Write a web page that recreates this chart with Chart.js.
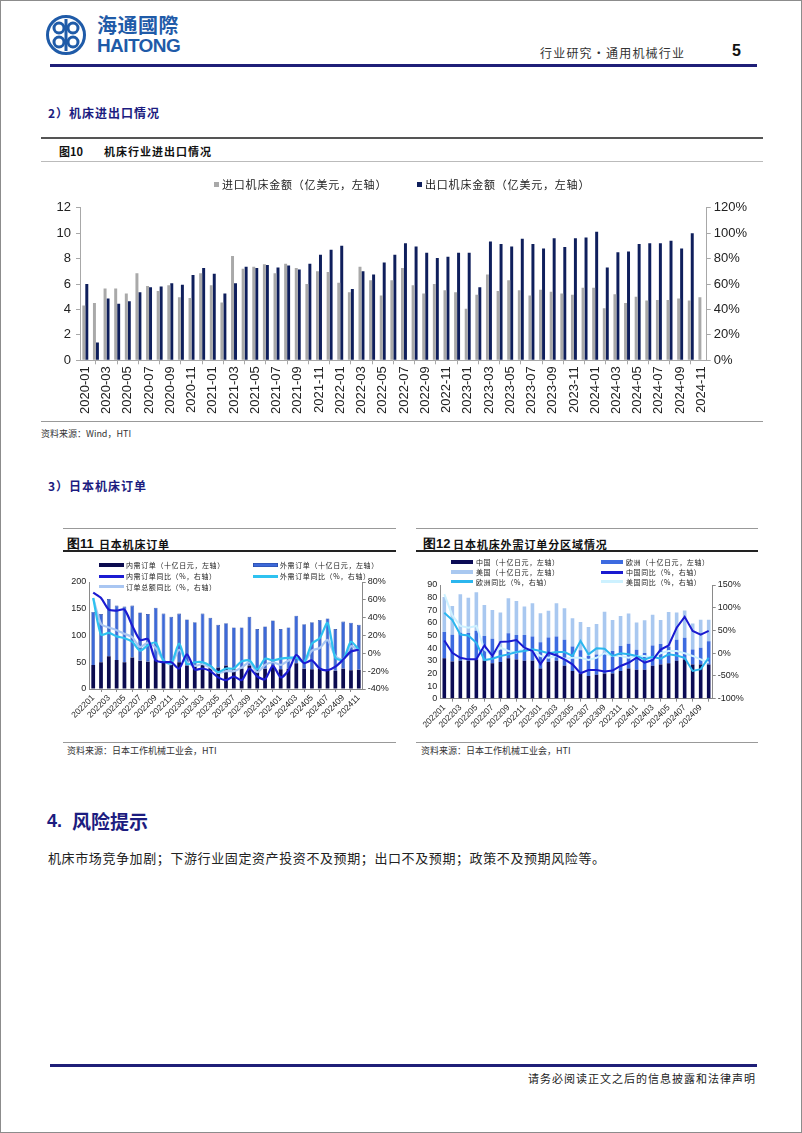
<!DOCTYPE html>
<html><head><meta charset="utf-8">
<script src="https://cdn.jsdelivr.net/npm/chart.js@4.4.1/dist/chart.umd.min.js"></script>
<style>
body{margin:0;background:#fff;}
#page{position:relative;width:802px;height:1133px;box-sizing:border-box;border:1px solid #8c8c8c;overflow:hidden;font-family:"Noto Sans CJK SC","Noto Sans",sans-serif;color:#222;background:#fff;}
.t{position:absolute;white-space:nowrap;}
.hl{position:absolute;}
canvas{position:absolute;}
.lgs{position:absolute;}
.lgt{position:absolute;white-space:nowrap;font-size:7px;letter-spacing:0.6px;line-height:10px;color:#222;}
</style></head>
<body><div id="page">
<!-- header -->
<svg class="t" style="left:45px;top:12px" width="40" height="44" viewBox="0 0 40 44">
  <circle cx="20" cy="22" r="18.5" fill="none" stroke="#1f5ba8" stroke-width="3"/>
  <circle cx="13" cy="15" r="5" fill="none" stroke="#1f5ba8" stroke-width="3"/>
  <circle cx="27" cy="15" r="5" fill="none" stroke="#1f5ba8" stroke-width="3"/>
  <circle cx="13" cy="29" r="5" fill="none" stroke="#1f5ba8" stroke-width="3"/>
  <circle cx="27" cy="29" r="5" fill="none" stroke="#1f5ba8" stroke-width="3"/>
  <rect x="18.5" y="6" width="3" height="32" fill="#1f5ba8"/>
</svg>
<div class="t" style="left:96px;top:11px;font-size:20px;font-weight:bold;color:#1f5ba8;line-height:26px;letter-spacing:0.5px">海通國際</div>
<div class="t" style="left:96px;top:35px;font-size:19px;font-weight:bold;color:#1f5ba8;line-height:20px;font-family:'Liberation Sans',Arial,sans-serif;letter-spacing:-0.6px">HAITONG</div>
<div class="t" style="left:539px;top:44px;font-size:12px;line-height:16px;letter-spacing:1.2px;color:#333">行业研究•通用机械行业</div>
<div class="t" style="left:731px;top:40px;font-size:16px;line-height:20px;font-weight:bold;font-family:'Liberation Sans',Arial,sans-serif;color:#111">5</div>
<div class="hl" style="left:49px;top:63px;width:707px;height:3px;background:#1f1f78"></div>

<div class="t" style="left:47px;top:104px;font-size:12px;line-height:16px;font-weight:bold;color:#1c1c80;letter-spacing:1px">2）机床进出口情况</div>

<!-- figure 10 -->
<div class="hl" style="left:40px;top:136px;width:722px;height:1.5px;background:#555"></div>
<div class="t" style="left:58px;top:143px;font-size:11px;line-height:14px;font-weight:bold;color:#111">图10</div>
<div class="t" style="left:103px;top:143px;font-size:11px;line-height:14px;font-weight:bold;color:#111;letter-spacing:1px">机床行业进出口情况</div>
<div class="hl" style="left:40px;top:160px;width:722px;height:1px;background:#bbb"></div>
<canvas id="c1" width="722" height="255" style="left:40px;top:163px"></canvas>
<div class="hl" style="left:40px;top:420px;width:722px;height:1px;background:#999"></div>
<div class="t" style="left:40px;top:427px;font-size:9px;line-height:12px;color:#333">资料来源：Wind，HTI</div>

<div class="t" style="left:47px;top:477px;font-size:12px;line-height:16px;font-weight:bold;color:#1c1c80;letter-spacing:1px">3）日本机床订单</div>

<!-- figure 11 -->
<div class="hl" style="left:62px;top:527px;width:333px;height:1px;background:#999"></div>
<div class="t" style="left:66px;top:535px;font-size:13px;line-height:16px;font-weight:bold;color:#111;font-family:'Liberation Sans',Arial,sans-serif">图11</div>
<div class="t" style="left:98px;top:535px;font-size:11px;line-height:16px;font-weight:bold;color:#111;letter-spacing:0.8px">日本机床订单</div>
<div class="hl" style="left:62px;top:549px;width:333px;height:1.5px;background:#222"></div>
<canvas id="c2" width="335" height="188" style="left:60px;top:553px"></canvas>
<div class="hl" style="left:62px;top:741px;width:333px;height:1px;background:#999"></div>
<div class="t" style="left:66px;top:744px;font-size:9px;line-height:12px;color:#333">资料来源：日本工作机械工业会，HTI</div>

<!-- figure 12 -->
<div class="hl" style="left:415px;top:527px;width:342px;height:1px;background:#999"></div>
<div class="t" style="left:422px;top:535px;font-size:13px;line-height:16px;font-weight:bold;color:#111;font-family:'Liberation Sans',Arial,sans-serif">图12</div>
<div class="t" style="left:452px;top:535px;font-size:11px;line-height:16px;font-weight:bold;color:#111;letter-spacing:0.9px">日本机床外需订单分区域情况</div>
<div class="hl" style="left:415px;top:549px;width:342px;height:1.5px;background:#222"></div>
<canvas id="c3" width="343" height="188" style="left:415px;top:553px"></canvas>
<div class="hl" style="left:415px;top:741px;width:342px;height:1px;background:#999"></div>
<div class="t" style="left:420px;top:744px;font-size:9px;line-height:12px;color:#333">资料来源：日本工作机械工业会，HTI</div>

<!-- section 4 -->
<div class="t" style="left:46px;top:808px;font-size:18px;line-height:24px;font-weight:bold;color:#1c1c80;font-family:'Liberation Sans',Arial,sans-serif">4.</div>
<div class="t" style="left:71px;top:808px;font-size:19px;line-height:24px;font-weight:bold;color:#1c1c80">风险提示</div>
<div class="t" style="left:47px;top:848px;font-size:13px;line-height:17px;color:#222;letter-spacing:0.6px">机床市场竞争加剧；下游行业固定资产投资不及预期；出口不及预期；政策不及预期风险等。</div>

<div class="hl" style="left:49px;top:1063px;width:707px;height:2.5px;background:#1f1f78"></div>
<div class="t" style="left:527px;top:1070px;font-size:11px;line-height:15px;color:#222;letter-spacing:1px">请务必阅读正文之后的信息披露和法律声明</div>
</div>

<script>
// ---------- Figure 10 data ----------
const c1Months = ['2020-01','2020-02','2020-03','2020-04','2020-05','2020-06','2020-07','2020-08','2020-09','2020-10','2020-11','2020-12',
'2021-01','2021-02','2021-03','2021-04','2021-05','2021-06','2021-07','2021-08','2021-09','2021-10','2021-11','2021-12',
'2022-01','2022-02','2022-03','2022-04','2022-05','2022-06','2022-07','2022-08','2022-09','2022-10','2022-11','2022-12',
'2023-01','2023-02','2023-03','2023-04','2023-05','2023-06','2023-07','2023-08','2023-09','2023-10','2023-11','2023-12',
'2024-01','2024-02','2024-03','2024-04','2024-05','2024-06','2024-07','2024-08','2024-09','2024-10','2024-11'];
const c1Import = [4.3,4.5,5.65,5.65,5.25,6.85,5.85,5.45,5.9,4.95,4.9,6.85,
5.9,4.55,8.2,7.2,7.35,7.55,6.85,7.6,7.25,6.0,7.0,6.95,
6.1,5.35,7.35,6.3,5.1,6.3,7.25,5.9,5.25,6.0,5.5,5.35,
4.05,5.15,6.75,5.45,6.3,5.5,5.1,5.55,5.4,5.25,5.15,5.7,
5.7,4.1,5.2,4.5,5.0,4.7,4.75,4.75,4.85,4.7,4.95];
const c1Export = [6.0,1.4,4.85,4.45,4.65,5.35,5.75,5.8,6.05,5.95,6.7,7.25,
6.8,5.25,6.05,7.35,7.25,7.5,7.3,7.45,7.15,7.6,8.3,8.7,
9.0,5.6,7.0,6.75,7.7,8.3,9.2,8.95,8.45,8.05,8.15,8.45,
8.45,5.75,9.35,9.15,8.95,9.55,9.15,8.8,9.6,8.9,9.6,9.65,
10.1,7.3,8.5,8.55,9.15,9.2,9.2,9.4,8.8,10.0,null];
const c1LeftTicks = [0,2,4,6,8,10,12];
const c1RightTicks = ['0%','20%','40%','60%','80%','100%','120%'];

// ---------- Figure 11 data ----------
const c2Months = ['202201','202202','202203','202204','202205','202206','202207','202208','202209','202210','202211','202212',
'202301','202302','202303','202304','202305','202306','202307','202308','202309','202310','202311','202312',
'202401','202402','202403','202404','202405','202406','202407','202408','202409','202410','202411'];
const c2Domestic = [45,50,61,54,50,59,53,51,55,50,48,50, 44,42,50,43,40,44,37,38,44,36,38,44, 37,38,48,38,37,38,37,34,38,35,36];
const c2Foreign  = [99,90,107,102,104,97,90,89,97,91,87,91, 86,83,91,90,80,79,78,77,91,76,79,84, 75,77,89,83,88,91,95,78,88,89,84];
const c2DomYoY   = [68,62,49,48,49,31,15,16,-8,-10,-10,-17, -1,-18,-17,-20,-27,-30,-26,-30,-17,-26,-29,-14, -27,-19,-2,-11,-8,-17,-19,-15,-7,2,4];
const c2ForYoY   = [62,21,23,19,17,13,3,9,12,-8,-11,11, -12,-10,-10,-14,-21,-17,-17,-9,-8,-18,-6,-8, -6,-5,-5,-10,11,17,34,-5,-7,13,4];
const c2TotYoY   = [62,33,29,26,22,18,7,12,6,-8,-12,4, -10,-14,-12,-16,-22,-20,-20,-16,-10,-21,-13,-10, -13,-8,-4,-10,3,6,15,-3,-7,8,3];

// ---------- Figure 12 data ----------
const c3Months = ['202201','202202','202203','202204','202205','202206','202207','202208','202209','202210','202211','202212',
'202301','202302','202303','202304','202305','202306','202307','202308','202309','202310','202311','202312',
'202401','202402','202403','202404','202405','202406','202407','202408','202409','202410'];
const c3China  = [32,29.5,30,30,31,30,28,29,32,31,30,30, 24,29,30,26,22,20,18,19,20,20,22,24, 23,23,26,27,28,30,31,27,27,27];
const c3Europe = [20.8,21.2,22.2,22.0,22.8,19.6,19.5,10.0,19.8,19.5,20.5,19.2, 20.7,19.4,19.2,20.6,19.3,18.4,15.8,16.0,16.4,17.7,19.7,19.5, 15.8,13.1,16.2,16.3,12.9,16.7,17.3,12.0,13.4,18.4];
const c3US     = [27.7,22.7,30.4,28,30.4,24.6,22.8,29.2,27.7,26.9,22.4,26.3, 22.9,21.3,26.3,25,22.4,22.3,22.9,24.1,32.5,24.6,23.7,24, 21.6,25.9,24.3,19,27.7,21.6,21.6,20.6,22.1,17.1];
const c3ChinaYoY  = [28,1,-10,-13.5,-13.5,17,-6,25,26,29,12,5, -24,1,-5,-13.5,-24.5,-44,-37,-37,-40,-38,-28,-21, -10,-21,-15,8,17,56,80,49,41,49];
const c3EuropeYoY = [89,73,41,39,23,-15,-12,-6,-2.5,2.6,5,8.5, 5,0,2.6,2.6,-6,27,-2.5,10.7,10,-6,0,-2.5, -6,-13.5,-8,-12,-2.5,-5,-10,-39,-35,-10];
const c3USYoY     = [130,83,60,56,60,8.5,-6,12,5,1,12,5, -6,-10,-6,-12,-10,-10,-15,-10,0,-6,-6,-10, -6,-6,-10,0,5,5,0,-6,-13.5,-21];

const NUMFONT = "'Liberation Sans', Arial, sans-serif";

function everyOther(v, i) { return i % 2 === 0 ? this.getLabelForValue(v) : null; }

function htmlLegend(chart, items, opt) {
  const page = document.getElementById('page');
  chart.data.datasets.forEach((ds, i) => {
    const p = items[i];
    const sw = document.createElement('div');
    sw.className = 'lgs';
    const isLine = ds.type === 'line';
    const h = isLine ? opt.lineH : opt.boxH;
    sw.style.left = p.x + 'px';
    sw.style.top = (p.y - h / 2) + 'px';
    sw.style.width = opt.sw + 'px';
    sw.style.height = h + 'px';
    sw.style.background = isLine ? ds.borderColor : ds.backgroundColor;
    if (!isLine && ds.borderWidth) sw.style.boxShadow = 'inset 0 0 0 0.6px ' + ds.borderColor;
    page.appendChild(sw);
    const tx = document.createElement('div');
    tx.className = 'lgt';
    tx.textContent = ds.label;
    tx.style.left = (p.x + opt.sw + opt.gap) + 'px';
    tx.style.top = (p.y - opt.lh / 2) + 'px';
    tx.style.fontSize = opt.fs + 'px';
    tx.style.letterSpacing = opt.ls + 'px';
    tx.style.lineHeight = opt.lh + 'px';
    page.appendChild(tx);
  });
}

// ---------- Chart 1 ----------
const axisGray = '#a8a8a8';
const ch1 = new Chart(document.getElementById('c1'), {
  type: 'bar',
  data: { labels: c1Months, datasets: [
    { label: '进口机床金额（亿美元，左轴）', data: c1Import, backgroundColor: '#a9a9a9', yAxisID: 'y', categoryPercentage: 0.56, barPercentage: 1 },
    { label: '出口机床金额（亿美元，左轴）', data: c1Export, backgroundColor: '#0f1f5c', yAxisID: 'y', categoryPercentage: 0.56, barPercentage: 1 }
  ]},
  options: {
    responsive: false, animation: false, devicePixelRatio: 1,
    layout: { padding: { top: 43.7, left: 0, right: 0, bottom: 0 } },
    plugins: { legend: { display: false }, tooltip: { enabled: false } },
    scales: {
      x: { grid: { display: true, drawOnChartArea: false, tickLength: 4, color: axisGray, offset: true },
           border: { color: axisGray },
           ticks: { autoSkip: false, minRotation: 90, maxRotation: 90, padding: 2, color: '#222', font: { family: NUMFONT, size: 13 }, callback: everyOther },
           afterFit: s => { s.height = 58.7; } },
      y: { min: 0, max: 12, afterBuildTicks: s => { s.ticks = c1LeftTicks.map(v => ({ value: v })); },
           grid: { drawOnChartArea: false, tickLength: 4, color: axisGray }, border: { color: axisGray },
           ticks: { autoSkip: false, padding: 5, color: '#222', font: { family: NUMFONT, size: 13 } },
           afterFit: s => { s.width = 39; } },
      y1: { position: 'right', min: 0, max: 120,
           afterBuildTicks: s => { s.ticks = c1RightTicks.map(t => ({ value: parseFloat(t) })); },
           grid: { drawOnChartArea: false, tickLength: 4, color: axisGray }, border: { color: axisGray },
           ticks: { autoSkip: false, padding: 3, color: '#222', font: { family: NUMFONT, size: 13 }, callback: (v, i) => c1RightTicks[i] },
           afterFit: s => { s.width = 56.3; } }
    }
  }
});
htmlLegend(ch1, [{ x: 213, y: 183 }, { x: 416, y: 183 }], { sw: 5, boxH: 5, lineH: 3, gap: 3, fs: 11, ls: 0.8, lh: 14 });

// ---------- Chart 2 ----------
const ax2 = '#8a8a8a';
const ch2 = new Chart(document.getElementById('c2'), {
  type: 'bar',
  data: { labels: c2Months, datasets: [
    { type: 'bar', label: '内需订单（十亿日元，左轴）', data: c2Domestic, backgroundColor: '#0b0b4f', stack: 's', yAxisID: 'y', order: 2, barPercentage: 0.48, categoryPercentage: 1 },
    { type: 'bar', label: '外需订单（十亿日元，左轴）', data: c2Foreign, backgroundColor: '#3d69d8', borderColor: '#27479e', borderWidth: 0.6, stack: 's', yAxisID: 'y', order: 2, barPercentage: 0.48, categoryPercentage: 1 },
    { type: 'line', label: '内需订单同比（%，右轴）', data: c2DomYoY, borderColor: '#1b1bd2', borderWidth: 2.2, pointRadius: 0, tension: 0.25, yAxisID: 'y1', order: 0 },
    { type: 'line', label: '外需订单同比（%，右轴）', data: c2ForYoY, borderColor: '#2ec2f0', borderWidth: 2.2, pointRadius: 0, tension: 0.25, yAxisID: 'y1', order: 0 },
    { type: 'line', label: '订单总额同比（%，右轴）', data: c2TotYoY, borderColor: '#a9c6f2', borderWidth: 2.2, pointRadius: 0, tension: 0.25, yAxisID: 'y1', order: 1 }
  ]},
  options: {
    responsive: false, animation: false, devicePixelRatio: 1,
    layout: { padding: { top: 28, left: 0, right: 0, bottom: 0 } },
    plugins: { legend: { display: false }, tooltip: { enabled: false } },
    scales: {
      x: { stacked: true, grid: { display: true, drawOnChartArea: false, tickLength: 3, color: ax2, offset: true }, border: { color: ax2 },
           ticks: { autoSkip: false, minRotation: 45, maxRotation: 45, padding: 1, color: '#222', font: { family: NUMFONT, size: 8.5 }, callback: everyOther },
           afterFit: s => { s.height = 53; } },
      y: { stacked: true, min: 0, max: 200, ticks: { autoSkip: false, stepSize: 50, padding: 3, color: '#222', font: { family: NUMFONT, size: 9 } },
           grid: { drawOnChartArea: false, tickLength: 0, color: ax2 }, border: { color: ax2 },
           afterFit: s => { s.width = 28.3; } },
      y1: { position: 'right', stacked: false, min: -40, max: 80, ticks: { autoSkip: false, stepSize: 20, padding: 2, color: '#222', font: { family: NUMFONT, size: 9 }, callback: v => v + '%' },
           grid: { drawOnChartArea: false, tickLength: 3, color: ax2 }, border: { color: ax2 },
           afterFit: s => { s.width = 33.3; } }
    }
  }
});
htmlLegend(ch2, [{ x: 98, y: 564.3 }, { x: 252, y: 564.3 }, { x: 98, y: 575.3 }, { x: 252, y: 575.3 }, { x: 98, y: 585.7 }],
  { sw: 25, boxH: 4, lineH: 3, gap: 2, fs: 7, ls: 0.6, lh: 10 });

// ---------- Chart 3 ----------
const ch3 = new Chart(document.getElementById('c3'), {
  type: 'bar',
  data: { labels: c3Months, datasets: [
    { type: 'bar', label: '中国（十亿日元，左轴）', data: c3China, backgroundColor: '#0b0b55', stack: 's', yAxisID: 'y', order: 2, barPercentage: 0.45, categoryPercentage: 1 },
    { type: 'bar', label: '欧洲（十亿日元，左轴）', data: c3Europe, backgroundColor: '#3d6be0', stack: 's', yAxisID: 'y', order: 2, barPercentage: 0.45, categoryPercentage: 1 },
    { type: 'bar', label: '美国（十亿日元，左轴）', data: c3US, backgroundColor: '#a9c8f0', stack: 's', yAxisID: 'y', order: 2, barPercentage: 0.45, categoryPercentage: 1 },
    { type: 'line', label: '中国同比（%，右轴）', data: c3ChinaYoY, borderColor: '#1a1ad0', borderWidth: 2, pointRadius: 0, tension: 0, yAxisID: 'y1', order: 0 },
    { type: 'line', label: '欧洲同比（%，右轴）', data: c3EuropeYoY, borderColor: '#2bb6ee', borderWidth: 2, pointRadius: 0, tension: 0, yAxisID: 'y1', order: 0 },
    { type: 'line', label: '美国同比（%，右轴）', data: c3USYoY, borderColor: '#cdf1ff', borderWidth: 2, pointRadius: 0, tension: 0, yAxisID: 'y1', order: 1 }
  ]},
  options: {
    responsive: false, animation: false, devicePixelRatio: 1,
    layout: { padding: { top: 31, left: 0, right: 0, bottom: 0 } },
    plugins: { legend: { display: false }, tooltip: { enabled: false } },
    scales: {
      x: { stacked: true, grid: { display: true, drawOnChartArea: false, tickLength: 3, color: ax2, offset: true }, border: { color: ax2 },
           ticks: { autoSkip: false, minRotation: 45, maxRotation: 45, padding: 1, color: '#222', font: { family: NUMFONT, size: 8.5 }, callback: everyOther },
           afterFit: s => { s.height = 43.3; } },
      y: { stacked: true, min: 0, max: 90, ticks: { autoSkip: false, stepSize: 10, padding: 3, color: '#222', font: { family: NUMFONT, size: 9 } },
           grid: { drawOnChartArea: false, tickLength: 0, color: ax2 }, border: { color: ax2 },
           afterFit: s => { s.width = 24.3; } },
      y1: { position: 'right', stacked: false, min: -100, max: 150, ticks: { autoSkip: false, stepSize: 50, padding: 2, color: '#222', font: { family: NUMFONT, size: 9 }, callback: v => v + '%' },
           grid: { drawOnChartArea: false, tickLength: 3, color: ax2 }, border: { color: ax2 },
           afterFit: s => { s.width = 46.3; } }
    }
  }
});
htmlLegend(ch3, [{ x: 450, y: 560.7 }, { x: 600, y: 560.7 }, { x: 450, y: 571 }, { x: 600, y: 571 }, { x: 450, y: 580.7 }, { x: 600, y: 580.7 }],
  { sw: 22, boxH: 4, lineH: 3, gap: 3, fs: 7, ls: 0.6, lh: 10 });
</script>
</body></html>
